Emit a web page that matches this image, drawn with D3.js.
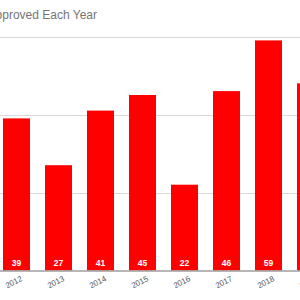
<!DOCTYPE html>
<html>
<head>
<meta charset="utf-8">
<script src="https://cdn.jsdelivr.net/npm/d3@7"></script>
<style>
  body { margin: 0; background: #fff; overflow: hidden; }
  svg { display: block; font-family: Arial, "Liberation Sans", sans-serif; }
</style>
</head>
<body>
<div id="chart"></div>
<script>
var years = ["2012", "2013", "2014", "2015", "2016", "2017", "2018", "2019"];
var approvals = [39, 27, 41, 45, 22, 46, 59, 48];
var gridTicks = [0, 20, 40, 60];
var title = "Approved Each Year";

var width = 300, height = 300;

var svg = d3.select("#chart")
  .append("svg")
  .attr("width", width)
  .attr("height", height);

// the chart is cut off on both sides, so the band range runs past the edges
var x = d3.scaleBand()
  .domain(years)
  .range([-4.5, -4.5 + years.length * 42])
  .paddingInner(0.357)
  .paddingOuter(0.1785);

var y = d3.scaleLinear()
  .domain([0, 60])
  .range([270.5, 36.5]);

svg.append("text")
  .attr("x", 97)
  .attr("y", 18.5)
  .attr("text-anchor", "end")
  .attr("fill", "#757575")
  .style("font-size", "12px")
  .text(title);

svg.selectAll("line.grid")
  .data(gridTicks.slice(1))
  .enter()
  .append("line")
  .attr("class", "grid")
  .attr("x1", 0)
  .attr("x2", width)
  .attr("y1", function(d) { return Math.round(y(d)) + 0.5; })
  .attr("y2", function(d) { return Math.round(y(d)) + 0.5; })
  .attr("stroke", "#d9d9d9")
  .attr("stroke-width", 1);

var bar = svg.selectAll("g.bar")
  .data(approvals)
  .enter()
  .append("g")
  .attr("class", "bar");

bar.append("rect")
  .attr("x", function(d, i) { return x(years[i]); })
  .attr("width", x.bandwidth())
  .attr("y", function(d) { return y(d); })
  .attr("height", function(d) { return y(0) - y(d); })
  .attr("fill", "#ff0000");

bar.append("text")
  .attr("x", function(d, i) { return x(years[i]) + x.bandwidth() / 2; })
  .attr("y", y(0) - 5)
  .attr("text-anchor", "middle")
  .attr("fill", "#ffffff")
  .style("font-size", "8.5px")
  .style("font-weight", "bold")
  .text(function(d) { return d; });

// baseline
svg.append("line")
  .attr("x1", 0)
  .attr("x2", width)
  .attr("y1", y(0) + 0.5)
  .attr("y2", y(0) + 0.5)
  .attr("stroke", "#9e9e9e")
  .attr("stroke-width", 1.5);

svg.selectAll("text.year")
  .data(years)
  .enter()
  .append("text")
  .attr("class", "year")
  .attr("text-anchor", "end")
  .attr("fill", "#555")
  .style("font-size", "8px")
  .attr("transform", function(d) {
    var cx = x(d) + x.bandwidth() / 2 + 6.5;
    return "translate(" + cx + "," + 280.5 + ") rotate(-27)";
  })
  .text(function(d) { return d; });
</script>
</body>
</html>
